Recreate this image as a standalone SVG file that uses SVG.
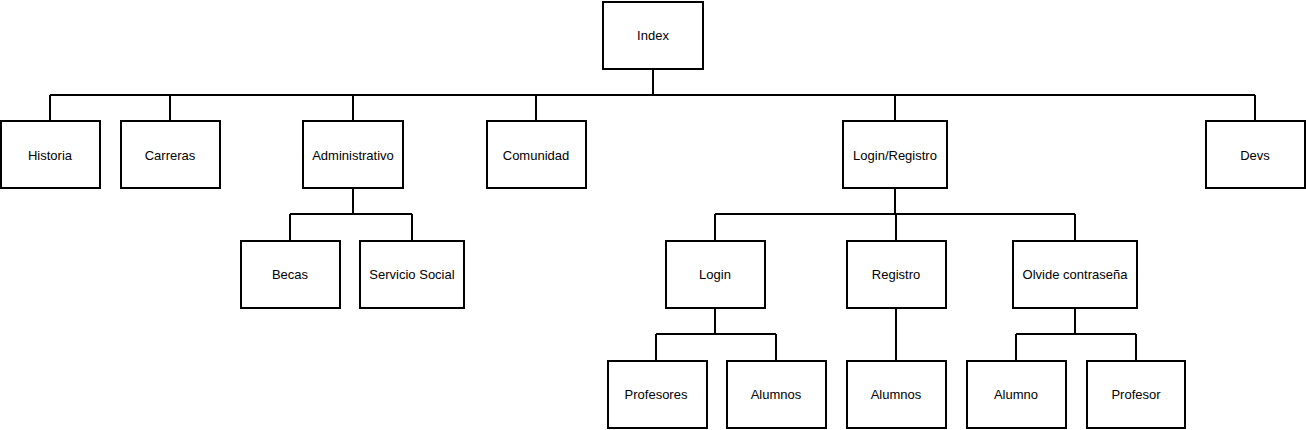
<svg xmlns="http://www.w3.org/2000/svg" width="1306" height="430" viewBox="0 0 1306 430">
<style>
.n rect{fill:#fff;stroke:#000;stroke-width:2}
.n text{font-family:"Liberation Sans",Arial,sans-serif;font-size:13px;fill:#000;text-anchor:middle;dominant-baseline:central}
#connectors path{fill:none;stroke:#000;stroke-width:2}
</style>
<rect width="1306" height="430" fill="#fff"/>
<g id="connectors">
<path d="M653 69V95M50 95H1255M50 95V121M170 95V121M353 95V121M536 95V121M895 95V121M1255 95V121"/>
<path d="M353 188V214M290 214H412M290 214V241M412 214V241"/>
<path d="M895 188V214M715 214H1075M715 214V241M896 214V241M1075 214V241"/>
<path d="M715 308V334M656 334H776M656 334V361M776 334V361"/>
<path d="M896 308V361"/>
<path d="M1075 308V334M1016 334H1136M1016 334V361M1136 334V361"/>
</g>
<g id="index" class="n"><rect x="603" y="2" width="100" height="67"/><text x="653" y="35">Index</text></g>
<g id="historia" class="n"><rect x="1" y="121" width="99" height="67"/><text x="50" y="155">Historia</text></g>
<g id="carreras" class="n"><rect x="121" y="121" width="99" height="67"/><text x="170" y="155">Carreras</text></g>
<g id="administrativo" class="n"><rect x="303" y="121" width="100" height="67"/><text x="353" y="155">Administrativo</text></g>
<g id="comunidad" class="n"><rect x="487" y="121" width="99" height="67"/><text x="536" y="155">Comunidad</text></g>
<g id="loginregistro" class="n"><rect x="843" y="121" width="104" height="67"/><text x="895" y="155">Login/Registro</text></g>
<g id="devs" class="n"><rect x="1206" y="121" width="99" height="67"/><text x="1255" y="155">Devs</text></g>
<g id="becas" class="n"><rect x="241" y="241" width="99" height="67"/><text x="290" y="274">Becas</text></g>
<g id="servicio" class="n"><rect x="360" y="241" width="104" height="67"/><text x="412" y="274">Servicio Social</text></g>
<g id="login" class="n"><rect x="666" y="241" width="99" height="67"/><text x="715" y="274">Login</text></g>
<g id="registro" class="n"><rect x="847" y="241" width="99" height="67"/><text x="896" y="274">Registro</text></g>
<g id="olvide" class="n"><rect x="1013" y="241" width="124" height="67"/><text x="1075" y="274">Olvide contraseña</text></g>
<g id="profesores" class="n"><rect x="608" y="361" width="99" height="67"/><text x="656" y="394">Profesores</text></g>
<g id="alumnos1" class="n"><rect x="727" y="361" width="99" height="67"/><text x="776" y="394">Alumnos</text></g>
<g id="alumnos2" class="n"><rect x="847" y="361" width="99" height="67"/><text x="896" y="394">Alumnos</text></g>
<g id="alumno" class="n"><rect x="967" y="361" width="99" height="67"/><text x="1016" y="394">Alumno</text></g>
<g id="profesor" class="n"><rect x="1087" y="361" width="98" height="67"/><text x="1136" y="394">Profesor</text></g>
</svg>
